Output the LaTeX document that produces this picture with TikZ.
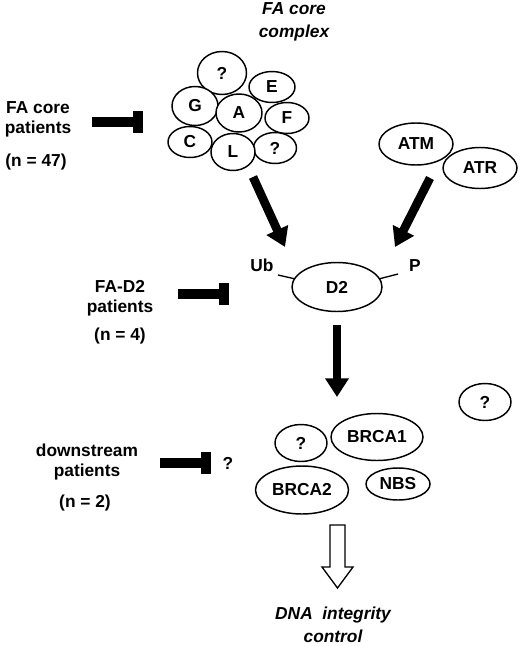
\documentclass[tikz,border=0pt]{standalone}
\usepackage{fontspec}
\setmainfont{Liberation Sans}
\usetikzlibrary{shapes.geometric,arrows.meta}
\tikzset{
  prot/.style={ellipse,draw,fill=white,line width=1.1pt,inner sep=0pt},
  sz/.style 2 args={minimum width=#1*0.75pt,minimum height=#2*0.75pt},
  txt/.style={align=center,inner sep=0pt},
  push/.style={line width=6.5pt,-{Triangle[length=14pt,width=17pt]}},
  block/.style={line width=7.5pt,-{Rectangle[length=7.5pt,width=17pt]}}
}
\begin{document}
\begin{tikzpicture}[x=0.75pt,y=-0.75pt,
    font=\fontsize{13}{15}\selectfont\bfseries]
  \useasboundingbox (0,0) rectangle (520,646);
  % FA core complex
  \draw
    (294,22) node[txt,font=\fontsize{13}{17.5}\selectfont\bfseries\itshape] (title){FA core\\complex}
    (222,73) node[prot,sz={49}{43}] (q1){?}
    (195,106) node[prot,sz={46}{39}] (g){G}
    (272,87) node[prot,sz={46}{31}] (e){E}
    (239,113) node[prot,sz={46}{38}] (a){A}
    (287,118) node[prot,sz={44}{31}] (f){F}
    (190,142) node[prot,sz={44}{31}] (c){C}
    (275,148) node[prot,sz={43}{31}] (q2){?}
    (233,152) node[prot,sz={44}{37}] (l){L};
  % kinases
  \draw
    (416,144) node[prot,sz={74}{42}] (atm){ATM}
    (480,168) node[prot,sz={74}{41}] (atr){ATR};
  % D2
  \draw
    (337,287) node[prot,sz={90}{49}] (d2){D2}
    (262,265) node (ub){Ub}
    (415,266) node (p){P};
  % downstream
  \draw
    (485,402) node[prot,sz={52}{37}] (q4){?}
    (301,443) node[prot,sz={52}{37}] (q3){?}
    (377,437) node[prot,sz={92}{47}] (brca1){BRCA1}
    (302,490) node[prot,sz={93}{48}] (brca2){BRCA2}
    (398,484) node[prot,sz={64}{32}] (nbs){NBS}
    (333,625) node[txt,font=\fontsize{13}{17.5}\selectfont\bfseries\itshape] (dna){DNA\ \ integrity\\control};
  % patient groups
  \draw
    (38,119) node[txt] (corep){FA core\\patients}
    (36,162) node (coren){(n = 47)}
    (120,298) node[txt] (d2p){FA-D2\\patients}
    (120,336) node (d2n){(n = 4)}
    (87,462) node[txt] (downp){downstream\\patients}
    (85,503) node (downn){(n = 2)}
    (228,463) node (qd){?};
  \coordinate (corefrom) at (253,177);
  \coordinate (coreto) at (285,247);
  \coordinate (kinfrom) at (430,178);
  \coordinate (kinto) at (395,247);
  \coordinate (d2from) at (337,325);
  \coordinate (d2to) at (337,397);
  \coordinate (ubend) at (278,275);
  \coordinate (pend) at (398,274);
  \coordinate (b1from) at (92,122);
  \coordinate (b1to) at (143,122);
  \coordinate (b2from) at (178,294);
  \coordinate (b2to) at (229,294);
  \coordinate (b3from) at (160,463);
  \coordinate (b3to) at (211,463);
  \begin{scope}[line width=1pt]
    \draw (ubend) to (d2.169);
    \draw (pend) to (d2.11);
  \end{scope}
  \begin{scope}[push]
    \draw (corefrom) to (coreto);
    \draw (kinfrom) to (kinto);
    \draw (d2from) to (d2to);
  \end{scope}
  \begin{scope}[block]
    \draw (b1from) to (b1to);
    \draw (b2from) to (b2to);
    \draw (b3from) to (b3to);
  \end{scope}
  % open arrow
  \draw[line width=1pt,fill=white] (330,525) -- (345,525) -- (345,567) -- (353,567)
    -- (337.5,588) -- (322,567) -- (330,567) -- cycle;
\end{tikzpicture}
\end{document}
